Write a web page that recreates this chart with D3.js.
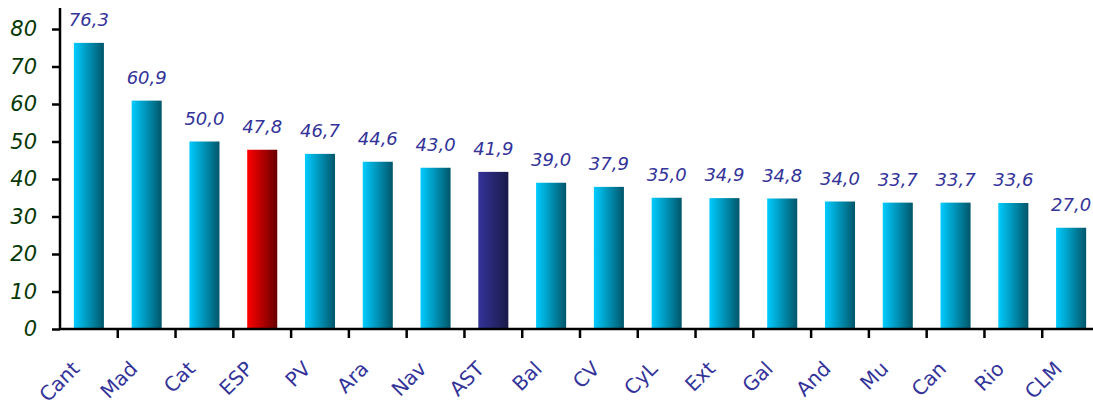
<!DOCTYPE html>
<html>
<head>
<meta charset="utf-8">
<script src="https://cdn.jsdelivr.net/npm/d3@7"></script>
<style>
  body { margin: 0; background: #fff; }
  svg { display: block; }
</style>
</head>
<body>
<div id="chart"></div>
<script>
// values
const regions = ['Cant', 'Mad', 'Cat', 'ESP', 'PV', 'Ara', 'Nav', 'AST', 'Bal', 'CV', 'CyL', 'Ext', 'Gal', 'And', 'Mu', 'Can', 'Rio', 'CLM'];
const values = [76.3, 60.9, 50.0, 47.8, 46.7, 44.6, 43.0, 41.9, 39.0, 37.9, 35.0, 34.9, 34.8, 34.0, 33.7, 33.7, 33.6, 27.0];
const yTicks = [0, 10, 20, 30, 40, 50, 60, 70, 80];

const width = 1093, height = 408;
const fontFam = 'Verdana, "DejaVu Sans", sans-serif';

const svg = d3.select('#chart').append('svg')
    .attr('width', width)
    .attr('height', height);

// gradients for the bars
const defs = svg.append('defs');
function grad(id, c1, c2) {
    const g = defs.append('linearGradient').attr('id', id)
        .attr('x1', '0%').attr('x2', '100%').attr('y1', '0%').attr('y2', '0%');
    g.append('stop').attr('offset', '0%').attr('stop-color', c1);
    g.append('stop').attr('offset', '100%').attr('stop-color', c2);
}
grad('gCyan', '#00ccff', '#00566a');
grad('gRed', '#ff0000', '#660000');
grad('gNavy', '#333399', '#1a1a4a');

const x = d3.scaleBand()
    .domain(regions)
    .range([60, 1100])
    .paddingInner(0.48)
    .paddingOuter(0.24);

const y = d3.scaleLinear()
    .domain([0, 80])
    .range([329, 29]);

function fillFor(r) {
    if (r === 'ESP') return 'url(#gRed)';
    if (r === 'AST') return 'url(#gNavy)';
    return 'url(#gCyan)';
}

// bars
svg.append('g')
    .selectAll('rect')
    .data(regions)
    .join('rect')
    .attr('x', d => x(d))
    .attr('y', (d, i) => y(values[i]))
    .attr('width', x.bandwidth())
    .attr('height', (d, i) => y(0) - y(values[i]))
    .attr('fill', d => fillFor(d));

// value labels
svg.append('g')
    .selectAll('text')
    .data(regions)
    .join('text')
    .attr('x', d => x(d) + x.bandwidth() / 2)
    .attr('y', (d, i) => y(values[i]) - 17)
    .attr('text-anchor', 'middle')
    .attr('font-family', fontFam)
    .attr('font-style', 'italic')
    .attr('font-size', 18)
    .attr('fill', '#333399')
    .text((d, i) => values[i].toFixed(1).replace('.', ','));

// y axis
const yAxis = svg.append('g')
    .attr('transform', 'translate(60,0)')
    .call(d3.axisLeft(y).tickValues(yTicks).tickSize(8).tickPadding(15).tickFormat(d3.format('d')));
yAxis.select('.domain').attr('d', 'M0,8V329').attr('stroke', '#000').attr('stroke-width', 2.5);
yAxis.selectAll('.tick line').attr('stroke', '#000').attr('stroke-width', 2.5);
yAxis.selectAll('.tick text')
    .attr('font-family', fontFam)
    .attr('font-style', 'italic')
    .attr('font-size', 21)
    .attr('fill', '#063806');

// x axis: ticks on category boundaries
const step = x.step();
const xg = svg.append('g');
xg.append('line')
    .attr('x1', 60).attr('x2', 1100)
    .attr('y1', y(0)).attr('y2', y(0))
    .attr('stroke', '#000').attr('stroke-width', 2.5);
xg.selectAll('line.tk')
    .data(regions.slice(1))
    .join('line')
    .attr('class', 'tk')
    .attr('x1', d => x(d) - x.paddingInner() * step / 2)
    .attr('x2', d => x(d) - x.paddingInner() * step / 2)
    .attr('y1', y(0)).attr('y2', y(0) + 9)
    .attr('stroke', '#000').attr('stroke-width', 2.5);

xg.selectAll('text')
    .data(regions)
    .join('text')
    .attr('transform', d => `translate(${x(d) + x.bandwidth() / 2 - 8},${y(0) + 41}) rotate(-45)`)
    .attr('text-anchor', 'end')
    .attr('font-family', fontFam)
    .attr('font-size', 20)
    .attr('fill', '#333399')
    .text(d => d);
</script>
</body>
</html>
